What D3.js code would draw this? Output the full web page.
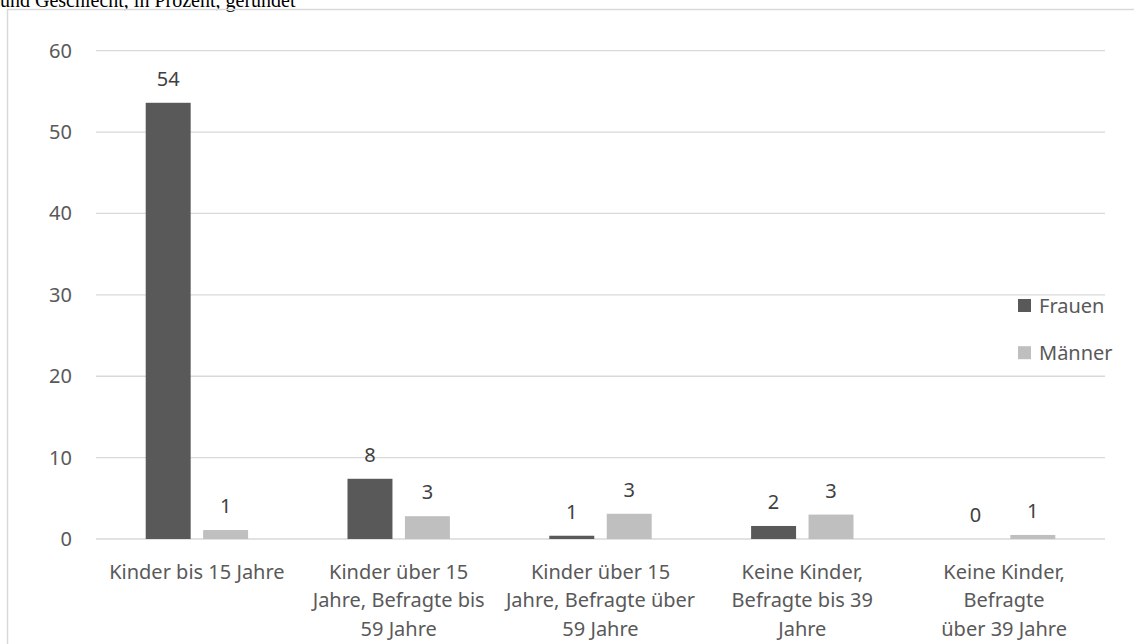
<!DOCTYPE html>
<html>
<head>
<meta charset="utf-8">
<script src="https://cdn.jsdelivr.net/npm/d3@7"></script>
<style>
  body { margin: 0; background: #fff; }
  svg { display: block; }
</style>
</head>
<body>
<div id="chart"></div>
<script>
// Data
const categories = [
  ["Kinder bis 15 Jahre"],
  ["Kinder über 15", "Jahre, Befragte bis", "59 Jahre"],
  ["Kinder über 15", "Jahre, Befragte über", "59 Jahre"],
  ["Keine Kinder,", "Befragte bis 39", "Jahre"],
  ["Keine Kinder,", "Befragte", "über 39 Jahre"]
];
const series = ["Frauen", "Männer"];
const frauen = [53.6, 7.4, 0.4, 1.6, 0];
const maenner = [1.1, 2.8, 3.1, 3.0, 0.5];
const frauenLabels = ["54", "8", "1", "2", "0"];
const maennerLabels = ["1", "3", "3", "3", "1"];
const yTicks = [0, 10, 20, 30, 40, 50, 60];
const colors = ["#595959", "#bfbfbf"];

const WIDTH = 1134, HEIGHT = 644;
const FONT = "'Noto Sans', sans-serif";

const svg = d3.select("#chart").append("svg")
  .attr("width", WIDTH)
  .attr("height", HEIGHT);

// title line cut off at the top
svg.append("text")
  .attr("x", 0)
  .attr("y", 6.5)
  .attr("font-family", "'Liberation Serif', 'Times New Roman', serif")
  .attr("font-size", 20)
  .attr("fill", "#000")
  .text("und Geschlecht, in Prozent, gerundet");

// chart frame
svg.append("rect")
  .attr("x", 7.5).attr("y", 9.5)
  .attr("width", 1140).attr("height", 700)
  .attr("fill", "none")
  .attr("stroke", "#d9d9d9")
  .attr("stroke-width", 1.5);

const x = d3.scaleBand()
  .domain(d3.range(categories.length))
  .range([96, 1105]);

const groupW = 102.4;
const xSub = d3.scaleBand()
  .domain(series)
  .range([(x.bandwidth() - groupW) / 2, (x.bandwidth() + groupW) / 2])
  .paddingInner(0.217);

const y = d3.scaleLinear()
  .domain([0, 60])
  .range([539, 50.7]);

// gridlines
svg.append("g").selectAll("line")
  .data(yTicks)
  .join("line")
    .attr("x1", 96).attr("x2", 1105)
    .attr("y1", d => y(d)).attr("y2", d => y(d))
    .attr("stroke", "#d9d9d9")
    .attr("stroke-width", 1.3);

// y tick labels
svg.append("g").selectAll("text")
  .data(yTicks)
  .join("text")
    .attr("x", 72)
    .attr("y", d => y(d))
    .attr("dy", "0.35em")
    .attr("text-anchor", "end")
    .attr("font-family", FONT)
    .attr("font-size", 20)
    .attr("fill", "#595959")
    .text(d => d);

// bars
const rows = categories.map((c, i) => [
  {s: "Frauen", v: frauen[i], label: frauenLabels[i], i: i},
  {s: "Männer", v: maenner[i], label: maennerLabels[i], i: i}
]);

const groups = svg.append("g").selectAll("g")
  .data(rows)
  .join("g")
    .attr("transform", (d, i) => `translate(${x(i)},0)`);

groups.selectAll("rect")
  .data(d => d)
  .join("rect")
    .attr("x", d => xSub(d.s))
    .attr("width", xSub.bandwidth())
    .attr("y", d => y(d.v))
    .attr("height", d => y(0) - y(d.v))
    .attr("fill", (d, j) => colors[j]);

groups.selectAll("text")
  .data(d => d)
  .join("text")
    .attr("x", d => xSub(d.s) + xSub.bandwidth() / 2)
    .attr("y", d => y(d.v) - 17)
    .attr("text-anchor", "middle")
    .attr("font-family", FONT)
    .attr("font-size", 20)
    .attr("fill", "#404040")
    .text(d => d.label);

// category labels
const catLabels = svg.append("g").selectAll("text")
  .data(categories)
  .join("text")
    .attr("text-anchor", "middle")
    .attr("font-family", FONT)
    .attr("font-size", 20)
    .attr("fill", "#595959");

catLabels.selectAll("tspan")
  .data((d, i) => d.map(line => ({line: line, i: i})))
  .join("tspan")
    .attr("x", d => x(d.i) + x.bandwidth() / 2)
    .attr("y", (d, k) => 579 + k * 28.3)
    .text(d => d.line);

// legend
const legend = svg.append("g").selectAll("g")
  .data(series)
  .join("g")
    .attr("transform", (d, i) => `translate(1018,${305.5 + i * 47.2})`);

legend.append("rect")
  .attr("x", 0).attr("y", -6.5)
  .attr("width", 13).attr("height", 13)
  .attr("fill", (d, i) => colors[i]);

legend.append("text")
  .attr("x", 21)
  .attr("y", 0)
  .attr("dy", "0.35em")
  .attr("font-family", FONT)
  .attr("font-size", 20)
  .attr("fill", "#595959")
  .text(d => d);
</script>
</body>
</html>
